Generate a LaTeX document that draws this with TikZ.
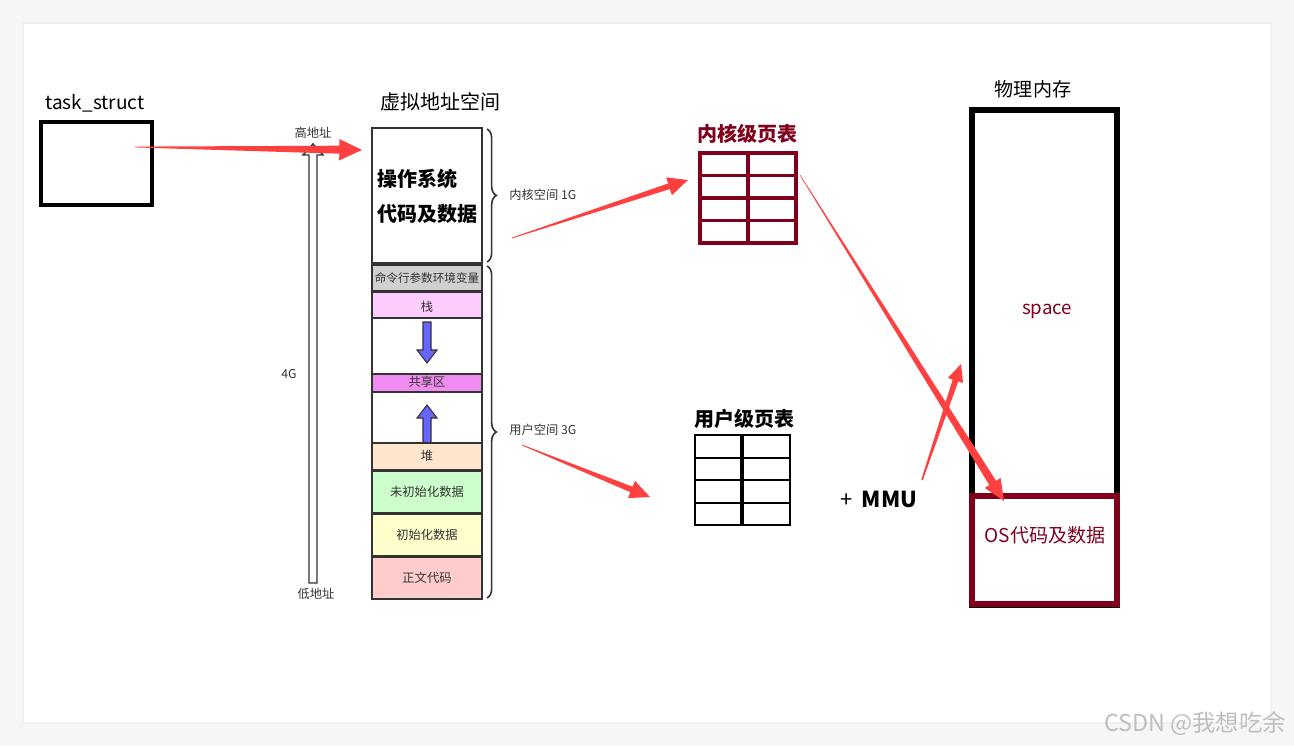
\documentclass[tikz,border=0pt]{standalone}
\usepackage{fontspec}
\setmainfont{Noto Sans CJK SC}
\usetikzlibrary{calc,decorations.pathreplacing}
\definecolor{arr}{RGB}{255,64,64}
\definecolor{dred}{RGB}{128,0,28}
\definecolor{edge}{RGB}{51,51,51}
\definecolor{cgray}{RGB}{208,208,208}
\definecolor{cstack}{RGB}{255,204,255}
\definecolor{cshare}{RGB}{240,140,240}
\definecolor{cheap}{RGB}{255,230,204}
\definecolor{cbss}{RGB}{204,255,204}
\definecolor{cdata}{RGB}{255,255,204}
\definecolor{ctext}{RGB}{255,204,204}
\definecolor{cblue}{RGB}{102,102,255}
\definecolor{bg}{RGB}{246,246,246}
\newcommand\taper[6]{%
  \coordinate (tmph) at ($(#2)!#5!(#1)$);
  \fill[arr] ($(#1)!#3!90:(#2)$) -- ($(tmph)!#4!-90:(#1)$) -- ($(tmph)!#6!-90:(#1)$) -- (#2)
    -- ($(tmph)!#6!90:(#1)$) -- ($(tmph)!#4!90:(#1)$) -- ($(#1)!#3!-90:(#2)$) -- cycle;}
\tikzset{
  seg/.style={draw=edge, line width=1.5pt},
  small/.style={font=\fontsize{9.2}{10}\selectfont, text=edge, inner sep=0pt},
  title/.style={font=\fontsize{14.3}{16}\selectfont, inner sep=0pt},
  brc/.style={draw=edge, line width=1.2pt, decorate, decoration={brace, amplitude=7pt}},
}
\begin{document}
\begin{tikzpicture}[x=0.75pt,y=-0.75pt]
\useasboundingbox (0,0) rectangle (1294,746);
\fill[bg] (0,0) rectangle (1294,746);
\fill[black!6] (22,22) rectangle (1272,724);
\fill[white] (24,24) rectangle (1270,722);

% task_struct
\node[title] (tsl) at (95,103) {task\_struct};
\draw[line width=3pt] (41,122) rectangle (152,205);
\coordinate (ts) at (135,147);

% high/low address arrow
\node[small] (hi) at (313,133) {高地址};
\node[small] (lo) at (316,594) {低地址};
\node[small] (fourg) at (289,374) {4G};
\draw[draw=edge, fill=white, line width=1.1pt] (309,583) -- (309,155) -- (303,155) -- (313,144) -- (323,155) -- (317,155) -- (317,583) -- cycle;

% virtual address space
\node[title, font=\fontsize{15}{17}\selectfont] (vas) at (440,102) {虚拟地址空间};
\draw[seg, fill=white] (372,128) rectangle (482,263);
\node[font=\fontsize{15}{17}\selectfont\bfseries, anchor=west, inner sep=0pt] (os1) at (377,179) {操作系统};
\node[font=\fontsize{15}{17}\selectfont\bfseries, anchor=west, inner sep=0pt] (os2) at (377,214) {代码及数据};
\coordinate (vtop) at (362,150);

\draw[seg, fill=cgray] (372,265) rectangle (482,291);
\node[small, font=\fontsize{8.7}{10}\selectfont] (env) at (427,278) {命令行参数环境变量};
\draw[seg, fill=cstack] (372,292) rectangle (482,318);
\node[small] (stk) at (427,307) {栈};
\draw[seg, fill=white] (372,318) rectangle (482,374);
\draw[draw=edge, fill=cblue, line width=0.8pt] (423,322) -- (431,322) -- (431,350) -- (437,350) -- (427,363) -- (417,350) -- (423,350) -- cycle;
\draw[seg, fill=cshare] (372,374) rectangle (482,392);
\node[small] (shr) at (427,382) {共享区};
\draw[seg, fill=white] (372,392) rectangle (482,443);
\draw[draw=edge, fill=cblue, line width=0.8pt] (423,443) -- (431,443) -- (431,418) -- (437,418) -- (427,405) -- (417,418) -- (423,418) -- cycle;
\draw[seg, fill=cheap] (372,443) rectangle (482,470);
\node[small] (heap) at (427,456) {堆};
\draw[seg, fill=cbss] (372,471) rectangle (482,513);
\node[small] (bss) at (427,492) {未初始化数据};
\draw[seg, fill=cdata] (372,514) rectangle (482,556);
\node[small] (data) at (427,535) {初始化数据};
\draw[seg, fill=ctext] (372,557) rectangle (482,599);
\node[small] (txt) at (427,578) {正文代码};

% braces
\draw[brc] (487,129) -- (487,262);
\node[small, anchor=west] (ksp) at (509,195) {内核空间 1G};
\draw[brc] (487,266) -- (487,598);
\node[small, anchor=west] (usp) at (509,430) {用户空间 3G};
\coordinate (kfrom) at (512,238);
\coordinate (ufrom) at (522,445);

% kernel page table
\node[font=\fontsize{15}{17}\selectfont\bfseries, text=dred, inner sep=0pt] (kpt) at (747,134) {内核级页表};
\draw[dred, line width=2.5pt] (700,153) rectangle (796,243);
\draw[dred, line width=2.5pt] (748,153) -- (748,243);
\foreach \yy in {175.5,198,220.5} \draw[dred, line width=2.5pt] (700,\yy) -- (796,\yy);
\coordinate (kto) at (688,180);
\coordinate (kout) at (800,175);

% user page table
\node[font=\fontsize{15}{17}\selectfont\bfseries, inner sep=0pt] (upt) at (744,419) {用户级页表};
\draw[line width=2pt] (695,435) rectangle (790,525);
\draw[line width=2.5pt] (742,435) -- (742,525);
\foreach \yy in {458,480,503} \draw[line width=2pt] (695,\yy) -- (790,\yy);
\coordinate (uto) at (650,497);

% MMU
\node[font=\fontsize{16.5}{18}\selectfont, inner sep=0pt] (mmu) at (879,499) {+\, \textbf{MMU}};
\coordinate (mfrom) at (922,480);
\coordinate (mto) at (961,364);

% physical memory
\node[title] (pm) at (1033,89) {物理内存};
\draw[line width=3.8pt] (972,110) rectangle (1117,605);
\node[font=\fontsize{14}{16}\selectfont, text=dred, inner sep=0pt] (space) at (1047,311) {space};
\draw[dred, line width=3.8pt] (972,496) rectangle (1117,604);
\node[font=\fontsize{14.3}{16}\selectfont, text=dred, inner sep=0pt] (osd) at (1045,535) {OS代码及数据};
\coordinate (osto) at (1004,501);

% red arrows
\taper{ts}{vtop}{0.3pt}{3pt}{17pt}{8pt}
\taper{kfrom}{kto}{0.3pt}{2.2pt}{15pt}{7pt}
\taper{ufrom}{uto}{0.3pt}{2.2pt}{15pt}{7pt}
\taper{kout}{osto}{0.2pt}{3pt}{16pt}{7pt}
\taper{mfrom}{mto}{0.6pt}{2.2pt}{13pt}{6pt}

% watermark
\node[font=\fontsize{17.5}{19}\selectfont, text=black!25, inner sep=0pt] (wm) at (1195,724) {CSDN @我想吃余};
\end{tikzpicture}
\end{document}
